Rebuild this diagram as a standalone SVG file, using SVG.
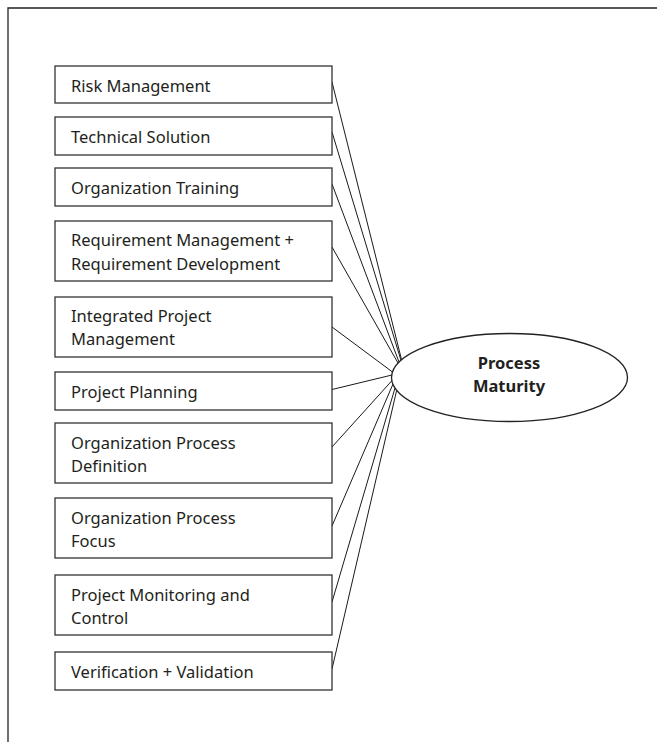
<svg xmlns="http://www.w3.org/2000/svg" width="657" height="742" viewBox="0 0 657 742">
<style>
.box{fill:#fff;stroke:#333;stroke-width:1.3}
.t{font-family:"Noto Sans","Liberation Sans",sans-serif;font-size:16.5px;fill:#231f20}
.c{stroke:#1a1a1a;stroke-width:1;fill:none}
.b{fill:none;stroke:#222;stroke-width:1.3}
.e{fill:#fff;stroke:#222;stroke-width:1.3}
.et{font-family:"Noto Sans","Liberation Sans",sans-serif;font-size:16.5px;font-weight:bold;fill:#231f20;text-anchor:middle}
</style>
<rect width="657" height="742" fill="#fff"/>
<path class="b" d="M8,742 V8 H657"/>
<g id="connectors">
<line class="c" x1="332" y1="82" x2="401.5" y2="359.5"/>
<line class="c" x1="332" y1="132" x2="401" y2="360.5"/>
<line class="c" x1="332" y1="184" x2="399" y2="362"/>
<line class="c" x1="332" y1="247" x2="398" y2="363"/>
<line class="c" x1="332" y1="327" x2="392.5" y2="372"/>
<line class="c" x1="332" y1="389.5" x2="392" y2="375"/>
<line class="c" x1="332" y1="447" x2="392.5" y2="380"/>
<line class="c" x1="332" y1="526" x2="393" y2="384"/>
<line class="c" x1="332" y1="602" x2="395" y2="388"/>
<line class="c" x1="332" y1="669" x2="396.5" y2="391"/>
</g>
<g id="n1"><rect class="box" x="55" y="66" width="277" height="37"/><text class="t" x="71" y="92">Risk Management</text></g>
<g id="n2"><rect class="box" x="55" y="117" width="277" height="38"/><text class="t" x="71" y="143">Technical Solution</text></g>
<g id="n3"><rect class="box" x="55" y="168" width="277" height="38"/><text class="t" x="71" y="194">Organization Training</text></g>
<g id="n4"><rect class="box" x="55" y="221" width="277" height="60"/><text class="t" x="71" y="246">Requirement Management +</text><text class="t" x="71" y="269.5">Requirement Development</text></g>
<g id="n5"><rect class="box" x="55" y="297" width="277" height="60"/><text class="t" x="71" y="322">Integrated Project</text><text class="t" x="71" y="345">Management</text></g>
<g id="n6"><rect class="box" x="55" y="372" width="277" height="38"/><text class="t" x="71" y="398">Project Planning</text></g>
<g id="n7"><rect class="box" x="55" y="423" width="277" height="60"/><text class="t" x="71" y="448.5">Organization Process</text><text class="t" x="71" y="471.5">Definition</text></g>
<g id="n8"><rect class="box" x="55" y="498" width="277" height="60"/><text class="t" x="71" y="524">Organization Process</text><text class="t" x="71" y="547.3">Focus</text></g>
<g id="n9"><rect class="box" x="55" y="575" width="277" height="60"/><text class="t" x="71" y="600.7">Project Monitoring and</text><text class="t" x="71" y="624">Control</text></g>
<g id="n10"><rect class="box" x="55" y="652" width="277" height="38"/><text class="t" x="71" y="678.3">Verification + Validation</text></g>
<g id="pm"><ellipse class="e" cx="509.5" cy="377.5" rx="118" ry="44"/><text class="et" x="509" y="369">Process</text><text class="et" x="509" y="392">Maturity</text></g>
</svg>
